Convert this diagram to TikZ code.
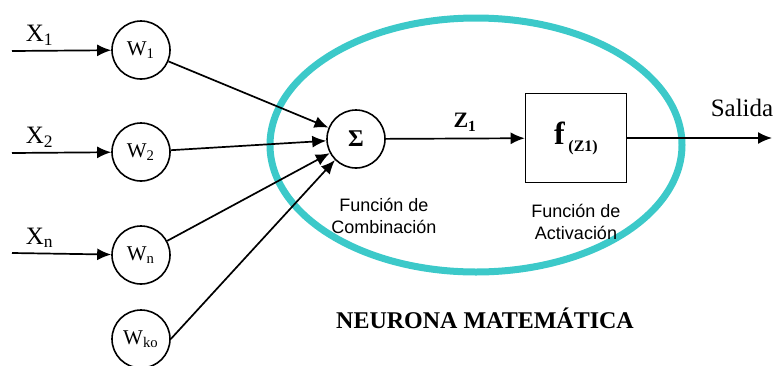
\documentclass[tikz,border=0pt]{standalone}
\usepackage{fontspec}
\setmainfont{Liberation Serif}
\setsansfont{Liberation Sans}
\usetikzlibrary{arrows.meta,positioning}
\definecolor{Teal}{HTML}{3CC9C9}

\begin{document}
\begin{tikzpicture}[
  x=0.5pt,y=-0.5pt,
  node distance=4mm,
  every node/.style={font=\rmfamily,align=center},
  weight/.style={draw,circle,line width=0.8pt,minimum size=29pt,inner sep=0pt,font=\rmfamily\fontsize{10.5}{12}\selectfont},
  actbox/.style={draw,line width=0.8pt,minimum width=50.5pt,minimum height=44.5pt,inner sep=0pt},
  caption/.style={font=\sffamily\fontsize{9}{11}\selectfont},
  arr/.style={-{Latex[length=7pt,width=6pt]},line width=0.85pt}
]
\useasboundingbox (0,0) rectangle (777,365);
% cuerpo de la neurona
\draw[Teal,line width=3.5pt] (476,145) ellipse [x radius=103pt,y radius=63.5pt];
\node[weight] (w1) at (141,50) {W\textsubscript{1}};
\node[weight] (w2) at (141,152) {W\textsubscript{2}};
\node[weight] (wn) at (141,255) {W\textsubscript{n}};
\node[weight] (wk) at (141,339) {W\textsubscript{ko}};
\node[weight,font=\rmfamily\bfseries\fontsize{12}{12}\selectfont] (sum) at (356,139) {Σ};
\node[actbox] (act) at (576,138) {\textbf{\fontsize{16}{16}\selectfont f}\,{\bfseries\fontsize{8}{8}\selectfont\raisebox{-3.5pt}{(Z1)}}};
\node[caption,below=4mm of sum,xshift=14pt] (comb) {Función de\\Combinación};
\node[caption,below=2.5mm of act] (actlbl) {Función de\\Activación};
\coordinate (x1) at (12,51);
\coordinate (x2) at (12,153);
\coordinate (xn) at (12,253);
\coordinate (out) at (772,138);
% entradas
\draw[arr] (x1) -- node[pos=0.28,above=-1pt,font=\fontsize{12.5}{14}\selectfont] (lx1) {X\textsubscript{1}} (w1);
\draw[arr] (x2) -- node[pos=0.28,above=-1pt,font=\fontsize{12.5}{14}\selectfont] (lx2) {X\textsubscript{2}} (w2);
\draw[arr] (xn) -- node[pos=0.28,above=-1pt,font=\fontsize{12.5}{14}\selectfont] (lxn) {X\textsubscript{n}} (wn);
% pesos hacia la suma
\draw[arr] (w1) -- (sum);
\draw[arr] (w2) -- (sum);
\draw[arr] (wn) -- (sum);
\draw[arr] (wk.east) -- (sum.south west);
\draw[arr] (sum) -- node[above,pos=0.5,xshift=5pt,font=\bfseries\fontsize{11}{12}\selectfont] (lz) {Z\textsubscript{1}} (act);
\draw[arr] (act) -- (out);
\node[font=\fontsize{12.5}{14}\selectfont] (salida) at (742,108) {Salida};
\node[font=\bfseries\fontsize{12}{14}\selectfont] (title) at (485,318) {NEURONA MATEMÁTICA};
\end{tikzpicture}
\end{document}
